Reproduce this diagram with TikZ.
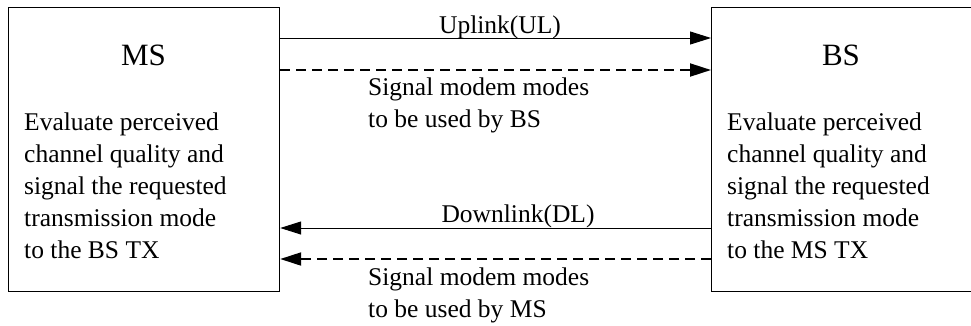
\documentclass[tikz,border=0pt]{standalone}
\usepackage{fontspec}
\setmainfont{Liberation Serif}
\usetikzlibrary{arrows.meta}

\begin{document}
\begin{tikzpicture}[x=1pt, y=1pt,
  box/.style={rectangle,draw,line width=1.2pt,minimum width=271pt,minimum height=284pt,anchor=north west,inner sep=0pt},
  title/.style={font=\fontsize{31}{36}\selectfont,anchor=base,inner sep=0pt},
  body/.style={font=\fontsize{25.5}{32}\selectfont,align=left,anchor=base west,inner sep=0pt},
  link/.style={line width=1pt,-{Triangle[length=21pt,width=13pt]}},
  ctrl/.style={line width=2pt,dash pattern=on 10pt off 6pt,-{Triangle[length=21pt,width=13pt]}}]
  \useasboundingbox (0,0) rectangle (971,-325);
  \node[box] (ms) at (8,-7) {};
  \node[box,minimum width=260pt] (bs) at (711,-7) {};
  \node[title] (mstitle) at (143.5,-65) {MS};
  \node[title] (bstitle) at (841,-65) {BS};
  \node[body] (mstext) at (24,-258) {Evaluate perceived\\channel quality and\\signal the requested\\transmission mode\\to the BS TX};
  \node[body] (bstext) at (727,-258) {Evaluate perceived\\channel quality and\\signal the requested\\transmission mode\\to the MS TX};
  \coordinate (ul) at (0,-38);
  \coordinate (ulc) at (0,-70);
  \coordinate (dl) at (0,-228);
  \coordinate (dlc) at (0,-259);
  \draw[link] (ms.east |- ul) -- (bs.west |- ul);
  \draw[ctrl] (ms.east |- ulc) -- (bs.west |- ulc);
  \draw[link] (bs.west |- dl) -- (ms.east |- dl);
  \draw[ctrl] (bs.west |- dlc) -- (ms.east |- dlc);
  \node[body,anchor=base] (ullabel) at (500,-33) {Uplink(UL)};
  \node[body] (ulclabel) at (368,-127) {Signal modem modes\\to be used by BS};
  \node[body,anchor=base] (dllabel) at (518,-222) {Downlink(DL)};
  \node[body] (dlclabel) at (368,-317) {Signal modem modes\\to be used by MS};
\end{tikzpicture}
\end{document}
